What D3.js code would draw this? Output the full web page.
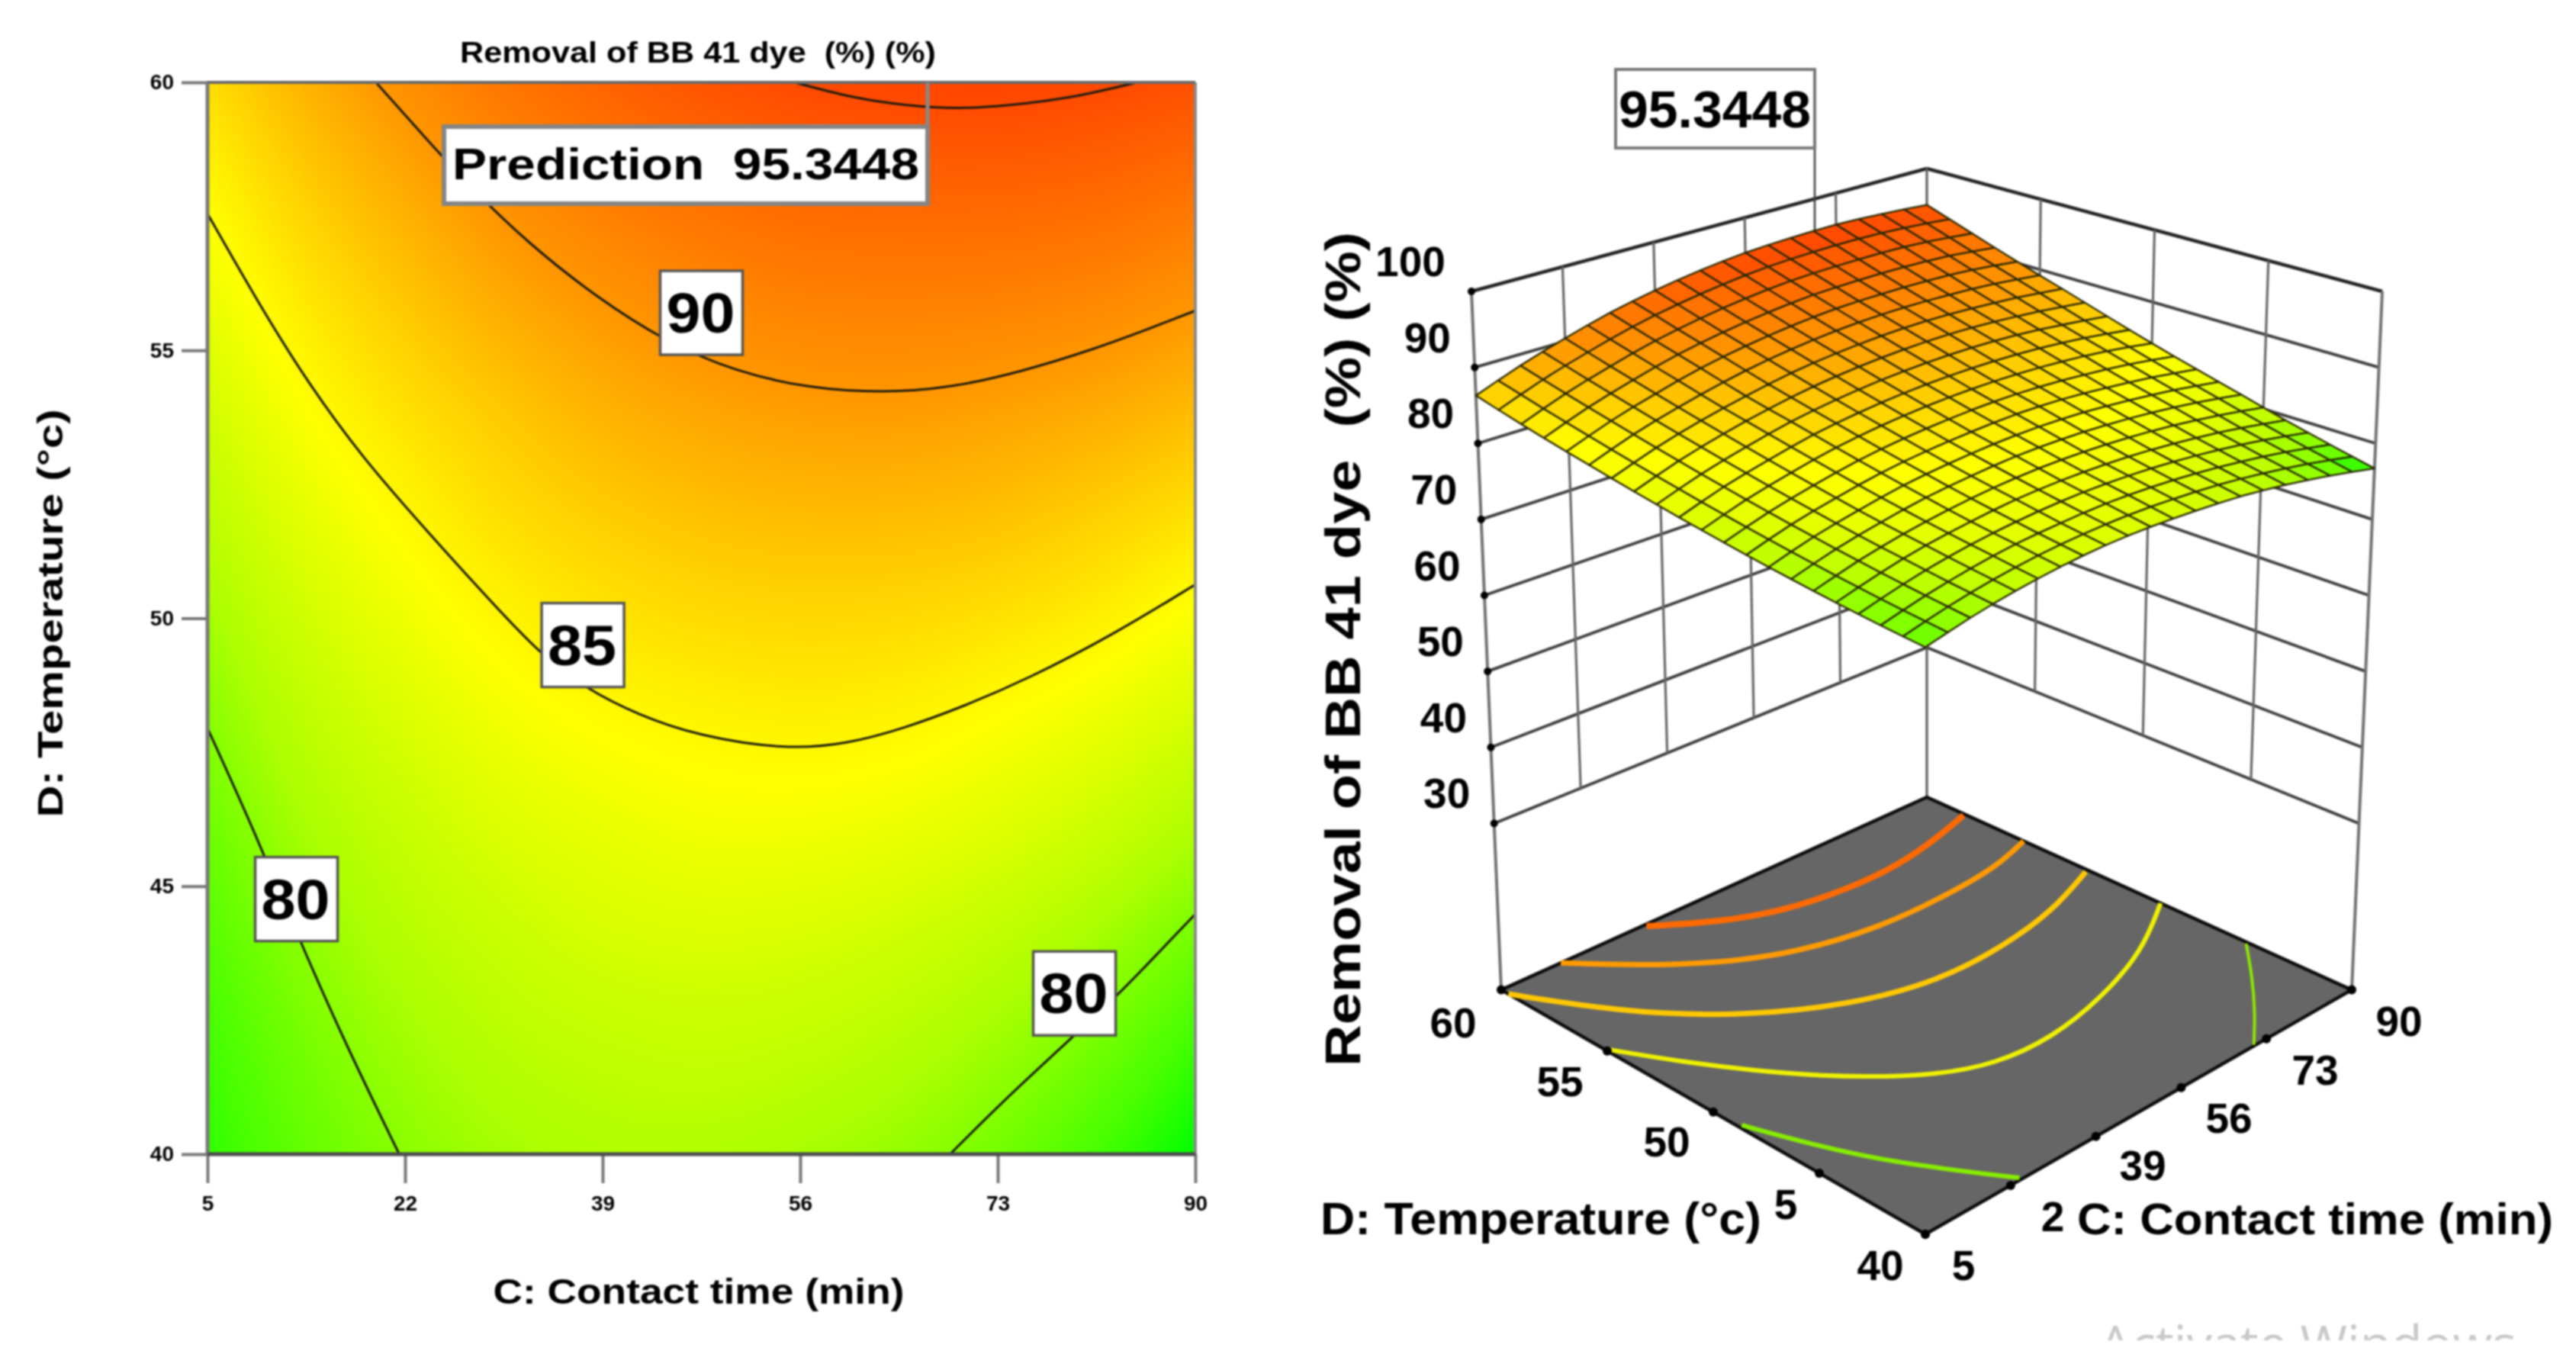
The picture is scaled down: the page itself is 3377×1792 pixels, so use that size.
<!DOCTYPE html>
<html><head><meta charset="utf-8">
<style>html,body{margin:0;padding:0;background:#fff}svg{display:block;filter:blur(1.1px)}text{font-family:"Liberation Sans",Arial,sans-serif;font-weight:bold;fill:#000}</style>
<script src="https://cdn.jsdelivr.net/npm/d3@7"></script>
</head><body>
<svg id="c" width="3377" height="1792" xmlns="http://www.w3.org/2000/svg"></svg>
<script>
// ---- data ----
const contactTicks = [5,22,39,56,73,90];
const tempTicks = [40,45,50,55,60];
const zTicks = [100,90,80,70,60,50,40,30];
const gridC = [5,13.5,22,30.5,39,47.5,56,64.5,73,81.5,90];
const gridD = [40,42,44,46,48,50,52,54,56,58,60];
// response values, one row per gridD, one column per gridC
const response = [
 [77.7,79.0,80.0,80.7,81.1,81.1,80.8,80.3,79.4,78.2,76.7],
 [78.1,79.5,80.6,81.4,81.8,82.0,81.8,81.3,80.5,79.4,78.0],
 [78.6,80.1,81.3,82.1,82.7,82.9,82.8,82.4,81.7,80.7,79.4],
 [79.2,80.8,82.0,83.0,83.6,84.0,84.0,83.7,83.1,82.2,81.0],
 [79.9,81.6,82.9,84.0,84.7,85.1,85.3,85.1,84.5,83.7,82.6],
 [80.7,82.5,83.9,85.1,85.9,86.4,86.6,86.5,86.1,85.4,84.3],
 [81.6,83.5,85.0,86.3,87.2,87.8,88.1,88.1,87.8,87.1,86.2],
 [82.6,84.6,86.2,87.5,88.6,89.3,89.7,89.8,89.5,89.0,88.2],
 [83.7,85.8,87.5,89.0,90.1,90.9,91.4,91.5,91.4,91.0,90.2],
 [84.9,87.1,88.9,90.5,91.7,92.6,93.2,93.4,93.4,93.1,92.4],
 [86.3,88.5,90.4,92.1,93.4,94.4,95.1,95.4,95.5,95.2,94.7]];
// contour lines of the flat plot, [C, D]
const contour95 = [[55.5,60],[60.7,59.7],[65,59.57],[69.6,59.5],[74,59.57],[79.2,59.7],[85,60]];
const contour90 = [[19.5,60],[23.6,59],[27.8,58],[32.6,57],[38.4,56],[44.5,55.15],[50.5,54.6],[56.5,54.3],[63,54.2],[69,54.3],[75,54.6],[81,55],[86,55.4],[90,55.74]];
const contour85 = [[5,57.55],[9.07,56],[13.3,54.5],[18.3,53],[24,51.6],[29.6,50.26],[33.8,49.3],[37.5,48.7],[42,48.2],[47.3,47.8],[54.7,47.55],[60,47.65],[65,47.95],[70,48.35],[75.6,48.87],[83,49.7],[90,50.63]];
const contour80a = [[5,47.95],[9.1,46],[12.9,44],[17,42],[21.5,40]];
const contour80b = [[68.9,40],[73.5,41],[79,42.1],[83.5,43],[87,43.8],[90,44.48]];
// contour lines on the floor of the 3D plot, [C, D]
const floor1 = [[33.6,59.9],[42,58.55],[51.2,57.6],[62.5,57.2],[72.5,57.2],[82.7,57.7],[89.7,58.2]];
const floor2 = [[16.9,60],[24.5,58.3],[33.7,56.6],[44.4,55.3],[58.1,54.6],[71,54.6],[81.8,54.8],[90,55.45]];
const floor3 = [[5,59.66],[10.5,57.7],[17.7,55.5],[27,53.5],[39.2,51.7],[53,50.7],[66.4,50.8],[78.3,51.3],[89.5,52.4]];
const floor4 = [[5.5,55],[11.2,52.8],[19.4,50.1],[27,48.1],[34.9,46.5],[42.6,45.6],[53.2,45.4],[65.5,46],[78.9,47.2],[90,49]];
const floor5 = [[5.6,48.8],[9.5,46.3],[14.7,43.6],[24.2,40.1]];
const floor6 = [[89.7,44.9],[83.7,43.2],[77.1,41.5],[70.7,40.05]];
const floorColors = ['#ff6a00','#ff9a00','#ffc800','#eef200','#86ee00','#8ee800'];
const floorWidths = [8,7,7,6,6,4];
const contourLabels = [['90',47.5,55.7],['85',37.3,49.5],['80',12.65,44.76],['80',79.6,43]];
const predictionText = 'Prediction  95.3448';
const predictionValue = '95.3448';
const predictionC = 67, predictionC3d = 69, predictionD = 60, predictionZ = 95.3448;
// tick labels of the 3D floor, partly overprinted in the source
const tempFloorLabels = ['40','5','50','55','60'];
const contactFloorLabels = ['5','2','39','56','73','90'];
// colour ramps
const heatStops = [76.7,78.2,81,84.6,90,95.5];
const meshStops = [76.7,77.5,78.3,80,82,84,90,95.5];
const heatColours = ['#00ff00','#46ff00','#afff00','#ffff00','#ff9600','#ff4400'];
const meshColours = ['#00ef00','#46ff00','#80ff00','#beff00','#ebff00','#ffff00','#ff9600','#ff4400'];

// ---- helpers ----
const svg = d3.select('#c');
const plotL=272, plotR=1567, plotT=108, plotB=1513;
const x = d3.scaleLinear().domain([5,90]).range([plotL,plotR]);
const y = d3.scaleLinear().domain([40,60]).range([plotB,plotT]);
const colour = d3.scaleLinear().domain(heatStops).range(heatColours);
const meshColour = d3.scaleLinear().domain(meshStops).range(meshColours);
function cr(p0,p1,p2,p3,t){return 0.5*((2*p1)+(-p0+p2)*t+(2*p0-5*p1+4*p2-p3)*t*t+(-p0+3*p1-3*p2+p3)*t*t*t);}
function cell(i,j){ // with linear continuation past the table edge
  const n=gridC.length-1,m=gridD.length-1;
  const ci=Math.max(0,Math.min(n,i)),cj=Math.max(0,Math.min(m,j));
  let v=response[cj][ci];
  if(i!==ci) v+= (response[cj][ci]-response[cj][ci+(i<0?1:-1)]);
  if(j!==cj) v+= (response[cj][ci]-response[cj+(j<0?1:-1)][ci]);
  return v;
}
function valueAt(C,D){
  const fi=(C-gridC[0])/(gridC[1]-gridC[0]), fj=(D-gridD[0])/(gridD[1]-gridD[0]);
  const i=Math.min(gridC.length-2,Math.floor(fi)), j=Math.min(gridD.length-2,Math.floor(fj));
  const t=fi-i,u=fj-j,rows=[];
  for(let b=-1;b<=2;b++) rows.push(cr(cell(i-1,j+b),cell(i,j+b),cell(i+1,j+b),cell(i+2,j+b),t));
  return cr(rows[0],rows[1],rows[2],rows[3],u);
}
function label(g,s,px,py,size,len,opt={}){
  const t=g.append('text').attr('x',px).attr('y',py).attr('font-size',size).attr('text-anchor',opt.anchor||'middle').text(s);
  t.attr('xml:space','preserve').style('white-space','pre');
  if(len) t.attr('textLength',len).attr('lengthAdjust','spacingAndGlyphs');
  if(opt.rot) t.attr('transform',`rotate(-90 ${px} ${py})`);
  if(opt.fill) t.style('fill',opt.fill);
  return t;
}

// ---- left: flat contour plot ----
const left = svg.append('g');
const cw=648,ch=703,cv=document.createElement('canvas');cv.width=cw;cv.height=ch;
const ctx=cv.getContext('2d'),img=ctx.createImageData(cw,ch);
for(let py=0;py<ch;py++)for(let px=0;px<cw;px++){
  const C=x.invert(plotL+(px+.5)/cw*(plotR-plotL)),D=y.invert(plotT+(py+.5)/ch*(plotB-plotT));
  const c=d3.rgb(colour(valueAt(C,D))),k=(py*cw+px)*4;
  img.data[k]=c.r;img.data[k+1]=c.g;img.data[k+2]=c.b;img.data[k+3]=255;
}
ctx.putImageData(img,0,0);
left.append('image').attr('x',plotL).attr('y',plotT).attr('width',plotR-plotL).attr('height',plotB-plotT)
  .attr('preserveAspectRatio','none').attr('href',cv.toDataURL());
svg.append('clipPath').attr('id','plotclip').append('rect').attr('x',plotL).attr('y',plotT).attr('width',plotR-plotL).attr('height',plotB-plotT);
const line=d3.line().x(d=>x(d[0])).y(d=>y(d[1])).curve(d3.curveBasis);
left.append('g').attr('clip-path','url(#plotclip)').selectAll('path')
  .data([contour95,contour90,contour85,contour80a,contour80b]).join('path')
  .attr('d',line).attr('fill','none').attr('stroke','#1a1a10').attr('stroke-width',3);
const ax=left.append('g').attr('transform',`translate(0,${plotB})`).call(d3.axisBottom(x).tickValues(contactTicks).tickSize(38).tickPadding(16).tickFormat(d3.format('d')));
const ay=left.append('g').attr('transform',`translate(${plotL},0)`).call(d3.axisLeft(y).tickValues(tempTicks).tickSize(34).tickPadding(10).tickFormat(d3.format('d')));
[ax,ay].forEach(a=>{a.select('.domain').remove();a.selectAll('line').attr('stroke','#777').attr('stroke-width',4);
  a.selectAll('text').attr('font-size',28).style('font-family','"Liberation Sans"').style('font-weight','bold').style('fill','#000');});
left.append('line').attr('x1',plotL).attr('x2',plotL).attr('y1',plotT).attr('y2',plotB).attr('stroke','#7a7a7a').attr('stroke-width',5);
left.append('line').attr('x1',plotR).attr('x2',plotR).attr('y1',plotT).attr('y2',plotB).attr('stroke','#8a8a8a').attr('stroke-width',4);
left.append('line').attr('x1',plotL).attr('x2',plotR).attr('y1',plotT).attr('y2',plotT).attr('stroke','#6a6a6a').attr('stroke-width',4);
left.append('line').attr('x1',plotL).attr('x2',plotR).attr('y1',plotB).attr('y2',plotB).attr('stroke','#4a4a50').attr('stroke-width',5);
contourLabels.forEach(([s,C,D])=>{
  const w=108,h=110;
  left.append('rect').attr('x',x(C)-w/2).attr('y',y(D)-h/2).attr('width',w).attr('height',h).attr('fill','#fff').attr('stroke','#555').attr('stroke-width',3.5);
  label(left,s,x(C)-1,y(D)+26,74,90);
});
// prediction flag
left.append('line').attr('x1',1216).attr('x2',1216).attr('y1',y(predictionD)).attr('y2',166).attr('stroke','#888').attr('stroke-width',5);
left.append('rect').attr('x',582).attr('y',166).attr('width',634).attr('height',101).attr('fill','#fff').attr('stroke','#858585').attr('stroke-width',6);
label(left,predictionText,899,235,58,612);
label(left,'Removal of BB 41 dye  (%) (%)',915,82,38,624);
label(left,'C: Contact time (min)',916,1709,46,539);
label(left,'D: Temperature (°c)',82,804,46,535,{rot:true});

// ---- right: 3D surface ----
const right=svg.append('g');
const zFloor=8.1;
const u=d3.scaleLinear().domain([5,90]).range([0,1]);
const v=d3.scaleLinear().domain([40,60]).range([0,1]);
const w=d3.scaleLinear().domain([zFloor,100]).range([0,1]);
const box={F0:[2524,1618],R0:[3083,1297.6],L0:[1968,1297.6],B0:[2526,1045],F1:[2524,602],R1:[3123,382],L1:[1929,382],B1:[2526,221]};
function project(C,D,Z){
  const a=u(C),b=v(D),t=w(Z),o=[];
  for(const k of [0,1]){
    const f=(1-t)*box.F0[k]+t*box.F1[k],r=(1-t)*box.R0[k]+t*box.R1[k],l=(1-t)*box.L0[k]+t*box.L1[k],ba=(1-t)*box.B0[k]+t*box.B1[k];
    o[k]=(1-a)*(1-b)*f+a*(1-b)*r+(1-a)*b*l+a*b*ba;
  }
  return o;
}
const seg=(g,p,q,col,wd)=>g.append('line').attr('x1',p[0]).attr('y1',p[1]).attr('x2',q[0]).attr('y2',q[1]).attr('stroke',col).attr('stroke-width',wd);
const walls=right.append('g');
zTicks.forEach(z=>{
  const wd=z===100?4.5:3.8, col=z===100?'#222':'#3c3c3c';
  seg(walls,project(5,60,z),project(90,60,z),col,wd);
  seg(walls,project(90,60,z),project(90,40,z),col,wd);
});
contactTicks.slice(1,-1).forEach(c=>seg(walls,project(c,60,30),project(c,60,100),'#666',3.2));
tempTicks.slice(1,-1).forEach(d=>seg(walls,project(90,d,30),project(90,d,100),'#666',3.2));
seg(walls,project(5,60,zFloor),project(5,60,100),'#707070',4);
seg(walls,project(90,40,zFloor),project(90,40,100),'#707070',4);
seg(walls,project(90,60,zFloor),project(90,60,100),'#606060',3.2);
// floor
const corner=[[5,40],[90,40],[90,60],[5,60]];
const poly=pts=>pts.map(p=>p.join(',')).join(' ');
right.append('polygon').attr('points',poly(corner.map(c=>project(c[0],c[1],zFloor)))).attr('fill','#666').attr('stroke','#0c0c0c').attr('stroke-width',4.5).attr('stroke-linejoin','round');
const floorLine=d3.line().x(d=>project(d[0],d[1],zFloor)[0]).y(d=>project(d[0],d[1],zFloor)[1]).curve(d3.curveBasis);
right.append('g').selectAll('path').data([floor1,floor2,floor3,floor4,floor5,floor6]).join('path')
  .attr('d',floorLine).attr('fill','none').attr('stroke',(d,i)=>floorColors[i]).attr('stroke-width',(d,i)=>floorWidths[i]);
// tick dots
const dots=right.append('g');
tempTicks.forEach(d=>{const p=project(5,d,zFloor);dots.append('circle').attr('cx',p[0]).attr('cy',p[1]).attr('r',6).attr('fill','#000');});
contactTicks.forEach(c=>{const p=project(c,40,zFloor);dots.append('circle').attr('cx',p[0]).attr('cy',p[1]).attr('r',6).attr('fill','#000');});
zTicks.forEach(z=>{const p=project(5,60,z);dots.append('circle').attr('cx',p[0]).attr('cy',p[1]).attr('r',5).attr('fill','#000');});
// leader behind the surface
const top3d=project(predictionC3d,predictionD,predictionZ);
seg(right,[top3d[0],194],top3d,'#444',2.6);
// surface mesh
const meshN=20,meshC=d3.range(meshN+1).map(i=>u.invert(i/meshN)),meshD=d3.range(meshN+1).map(i=>v.invert(i/meshN));
const quads=[];
for(let i=meshN-1;i>=0;i--)for(let j=meshN-1;j>=0;j--){
  const cs=[[meshC[i],meshD[j]],[meshC[i+1],meshD[j]],[meshC[i+1],meshD[j+1]],[meshC[i],meshD[j+1]]];
  quads.push(cs.map(c=>[c[0],c[1],valueAt(c[0],c[1])]));
}
right.append('g').selectAll('polygon').data(quads).join('polygon')
  .attr('points',q=>poly(q.map(p=>project(p[0],p[1],p[2]))))
  .attr('fill',q=>meshColour(d3.mean(q,p=>p[2])))
  .attr('stroke','#262600').attr('stroke-width',2.3).attr('stroke-linejoin','round');
// value flag
right.append('rect').attr('x',2118).attr('y',91).attr('width',261).attr('height',103).attr('fill','#fff').attr('stroke','#777').attr('stroke-width',4);
label(right,predictionValue,2248,167,68,252);
// labels
zTicks.forEach(z=>{const p=project(5,60,z);label(right,String(z),p[0]-(z===100?80:62),p[1]-20,55);});
const tl=[[2465,1678],[2341,1598],[2185,1516],[2045,1437],[1905,1360]];
tempFloorLabels.forEach((s,i)=>label(right,s,tl[i][0],tl[i][1],55));
const cl=[[2574,1678],[2691,1614],[2809,1547],[2922,1485],[3035,1422],[3145,1358]];
contactFloorLabels.forEach((s,i)=>label(right,s,cl[i][0],cl[i][1],55));
label(right,'D: Temperature (°c)',2020,1618,60,578);
label(right,'C: Contact time (min)',3035,1618,58,624);
label(right,'Removal of BB 41 dye  (%) (%)',1783,851,64,1094,{rot:true});
// cropped watermark
svg.append('clipPath').attr('id','wm').append('rect').attr('x',2700).attr('y',1700).attr('width',677).attr('height',57);
svg.append('g').attr('clip-path','url(#wm)').append('text').attr('x',2752).attr('y',1785).attr('font-size',65)
  .attr('textLength',547).attr('lengthAdjust','spacingAndGlyphs').style('font-weight','normal').style('font-family','"Open Sans"').style('fill','#c8c8c8').text('Activate Windows');
</script>
</body></html>
